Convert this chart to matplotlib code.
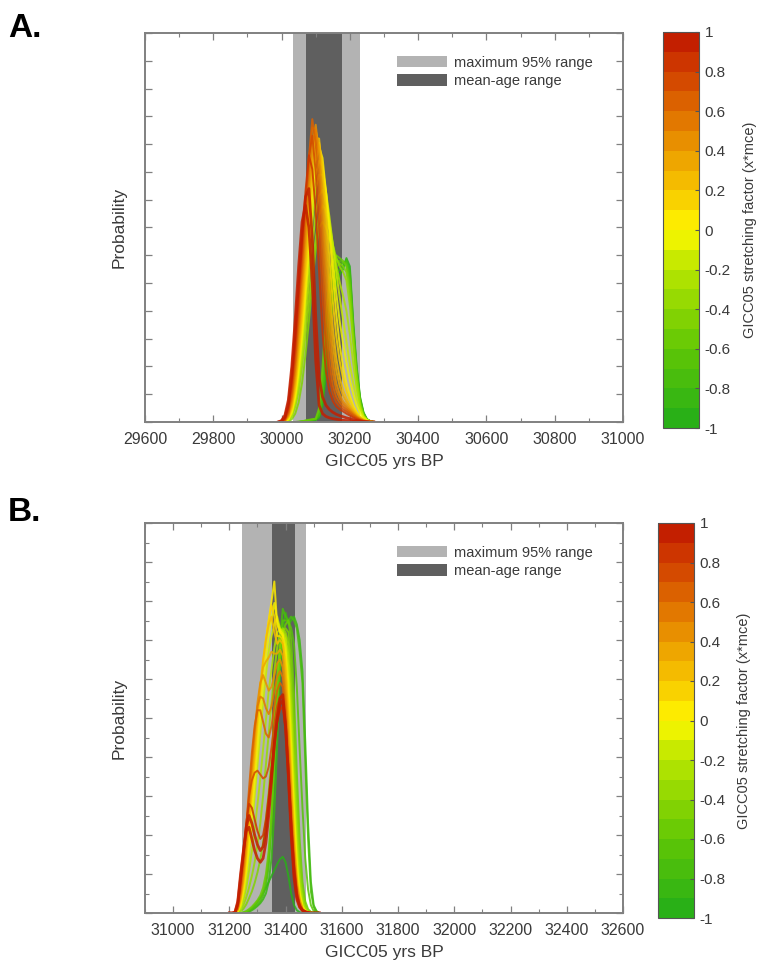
import numpy as np
import matplotlib
matplotlib.use("Agg")
import matplotlib.pyplot as plt
from matplotlib.colors import LinearSegmentedColormap, ListedColormap, BoundaryNorm
from matplotlib.patches import Patch
from matplotlib.ticker import MultipleLocator, FixedLocator
from matplotlib.cm import ScalarMappable

plt.rcParams['font.family'] = ['Liberation Sans', 'DejaVu Sans']

# ---------------- data ----------------
stretch_factors = [-1.0, -0.9, -0.8, -0.7, -0.6, -0.5, -0.4, -0.3, -0.2, -0.1, 0.0,
                   0.1, 0.2, 0.3, 0.4, 0.5, 0.6, 0.7, 0.8, 0.9, 1.0]

# Panel A: probability curves on a 10-yr grid 29990..30270
A_years = np.arange(29990, 30271, 10)
A_m10 = [0, 0, 0, 0, 0, 0, 0, 0, 0.02, 0.03, 0.05, 0.07, 0.15, 0.6, 1.7, 3.1, 4.3, 5.0, 5.3, 5.5, 5.9, 5.6, 3.6, 2.0, 0.9, 0.35, 0.1, 0.03, 0]
A_m09 = [0, 0, 0, 0, 0, 0, 0, 0.01, 0.03, 0.05, 0.07, 0.09, 0.2, 0.8, 2.1, 3.6, 4.7, 5.3, 5.5, 5.6, 5.85, 5.45, 3.45, 1.9, 0.85, 0.32, 0.1, 0.03, 0]
A_m08 = [0, 0, 0, 0, 0, 0, 0, 0.02, 0.04, 0.06, 0.08, 0.1, 0.25, 1.0, 2.6, 4.1, 5.1, 5.6, 5.7, 5.7, 5.8, 5.3, 3.3, 1.8, 0.8, 0.3, 0.1, 0.03, 0]
A_m07 = [0, 0, 0, 0, 0, 0, 0.01, 0.02, 0.05, 0.07, 0.09, 0.11, 0.38, 1.5, 3.2, 4.7, 5.5, 5.8, 5.8, 5.75, 5.7, 5.1, 3.25, 1.75, 0.75, 0.28, 0.09, 0.02, 0]
A_m06 = [0, 0, 0, 0, 0, 0, 0.01, 0.03, 0.05, 0.08, 0.1, 0.12, 0.5, 2.0, 3.9, 5.2, 5.8, 6.0, 5.9, 5.8, 5.6, 4.9, 3.2, 1.7, 0.7, 0.25, 0.08, 0.02, 0]
A_m05 = [0, 0, 0, 0.02, 0.1, 0.3, 0.7, 1.4, 2.4, 3.6, 5.0, 6.2, 7.0, 7.2, 7.0, 6.6, 6.2, 5.9, 5.7, 5.6, 5.4, 4.6, 3.0, 1.6, 0.65, 0.22, 0.07, 0.02, 0]
A_m04 = [0, 0, 0, 0.05, 0.2, 0.55, 1.1, 2.0, 3.1, 4.3, 5.5, 6.6, 7.4, 7.8, 7.6, 7.0, 6.4, 5.9, 5.6, 5.4, 5.1, 4.2, 2.8, 1.5, 0.6, 0.2, 0.06, 0.02, 0]
A_m03 = [0, 0, 0.005, 0.06, 0.25, 0.68, 1.35, 2.4, 3.65, 5.0, 6.35, 7.5, 8.15, 8.35, 7.95, 7.2, 6.4, 5.65, 5.05, 4.55, 4.0, 3.15, 2.1, 1.2, 0.52, 0.2, 0.07, 0.02, 0]
A_m02 = [0, 0, 0.01, 0.08, 0.3, 0.8, 1.6, 2.8, 4.2, 5.7, 7.2, 8.4, 8.9, 8.9, 8.3, 7.4, 6.4, 5.4, 4.5, 3.7, 2.9, 2.1, 1.4, 0.85, 0.45, 0.2, 0.08, 0.02, 0]
A_m01 = [0, 0, 0.015, 0.1, 0.35, 0.9, 1.8, 3.05, 4.55, 6.15, 7.7, 8.9, 9.4, 9.2, 8.3, 7.1, 5.85, 4.65, 3.65, 2.85, 2.15, 1.5, 1.0, 0.6, 0.32, 0.15, 0.06, 0.015, 0]
A_00 = [0, 0, 0.02, 0.12, 0.4, 1.0, 2.0, 3.3, 4.9, 6.6, 8.2, 9.4, 9.9, 9.5, 8.3, 6.8, 5.3, 3.9, 2.8, 2.0, 1.4, 0.95, 0.6, 0.36, 0.2, 0.1, 0.04, 0.01, 0]
A_p01 = [0, 0, 0.025, 0.15, 0.48, 1.15, 2.25, 3.65, 5.35, 7.1, 8.7, 9.8, 10.05, 9.2, 7.65, 5.9, 4.35, 3.1, 2.2, 1.58, 1.12, 0.78, 0.51, 0.32, 0.18, 0.09, 0.035, 0.01, 0]
A_p02 = [0, 0, 0.03, 0.18, 0.55, 1.3, 2.5, 4.0, 5.8, 7.6, 9.2, 10.2, 10.2, 8.9, 7.0, 5.0, 3.4, 2.3, 1.6, 1.15, 0.85, 0.6, 0.42, 0.27, 0.16, 0.08, 0.03, 0.01, 0]
A_p03 = [0, 0, 0.04, 0.22, 0.65, 1.5, 2.8, 4.4, 6.25, 8.05, 9.6, 10.5, 9.9, 8.2, 6.15, 4.25, 2.8, 1.85, 1.3, 0.95, 0.72, 0.52, 0.37, 0.23, 0.14, 0.07, 0.025, 0.005, 0]
A_p04 = [0, 0, 0.05, 0.25, 0.75, 1.7, 3.1, 4.8, 6.7, 8.5, 10.0, 10.7, 9.6, 7.5, 5.3, 3.5, 2.2, 1.4, 1.0, 0.75, 0.6, 0.45, 0.32, 0.2, 0.12, 0.06, 0.02, 0, 0]
A_p05 = [0, 0.005, 0.065, 0.3, 0.88, 1.95, 3.45, 5.2, 7.15, 9.0, 10.6, 10.5, 8.9, 6.6, 4.4, 2.8, 1.75, 1.15, 0.85, 0.65, 0.52, 0.4, 0.28, 0.18, 0.1, 0.05, 0.02, 0, 0]
A_p06 = [0, 0.01, 0.08, 0.35, 1.0, 2.2, 3.8, 5.6, 7.6, 9.5, 10.9, 10.0, 8.0, 5.6, 3.5, 2.1, 1.3, 0.9, 0.7, 0.55, 0.45, 0.35, 0.25, 0.16, 0.09, 0.04, 0.02, 0, 0]
A_p07 = [0, 0.015, 0.1, 0.42, 1.2, 2.5, 4.15, 6.0, 7.95, 9.55, 10.3, 9.0, 6.9, 4.5, 2.7, 1.6, 1.02, 0.72, 0.57, 0.46, 0.38, 0.29, 0.2, 0.13, 0.07, 0.035, 0.015, 0, 0]
A_p08 = [0, 0.02, 0.12, 0.5, 1.4, 2.8, 4.5, 6.4, 8.3, 9.6, 9.1, 7.6, 5.4, 3.2, 1.8, 1.1, 0.75, 0.55, 0.45, 0.38, 0.3, 0.23, 0.16, 0.1, 0.06, 0.03, 0.01, 0, 0]
A_p09 = [0, 0.035, 0.18, 0.65, 1.7, 3.25, 5.05, 6.8, 8.1, 8.4, 6.6, 3.8, 1.6, 0.9, 0.6, 0.45, 0.35, 0.28, 0.23, 0.19, 0.15, 0.12, 0.08, 0.05, 0.03, 0.015, 0.005, 0, 0]
A_p10 = [0, 0.05, 0.25, 0.8, 2.0, 3.7, 5.6, 7.2, 7.8, 7.0, 5.0, 2.2, 0.6, 0.3, 0.2, 0.15, 0.12, 0.1, 0.08, 0.06, 0.05, 0.04, 0.03, 0.02, 0.01, 0, 0, 0, 0]

# Panel B: probability curves on a 10-yr grid 31200..31520
B_years = np.arange(31200, 31521, 10)
B_m10 = [0, 0, 0, 0, 0, 0, 0.02, 0.06, 0.12, 0.2, 0.3, 0.4, 0.52, 0.65, 0.8, 0.95, 1.1, 1.25, 1.38, 1.44, 1.3, 0.95, 0.5, 0.2, 0.07, 0.02, 0, 0, 0, 0, 0, 0, 0]
B_m09 = [0, 0, 0, 0, 0, 0, 0.01, 0.03, 0.07, 0.12, 0.18, 0.25, 0.35, 0.5, 0.8, 1.4, 2.6, 4.3, 6.1, 7.3, 7.7, 7.4, 7.5, 7.6, 7.4, 7.0, 6.2, 4.4, 2.3, 0.8, 0.2, 0.05, 0]
B_m08 = [0, 0, 0, 0, 0, 0, 0.02, 0.05, 0.1, 0.15, 0.22, 0.3, 0.45, 0.7, 1.2, 2.2, 3.8, 5.6, 7.0, 7.8, 7.6, 7.5, 7.6, 7.5, 7.3, 6.7, 5.9, 3.9, 1.9, 0.55, 0.15, 0.04, 0]
B_m07 = [0, 0, 0, 0, 0, 0.01, 0.035, 0.075, 0.13, 0.2, 0.28, 0.38, 0.55, 0.85, 1.4, 2.4, 3.85, 5.45, 6.75, 7.5, 7.5, 7.5, 7.3, 6.9, 5.8, 4.2, 2.7, 1.4, 0.6, 0.2, 0.05, 0.01, 0]
B_m06 = [0, 0, 0, 0, 0, 0.02, 0.05, 0.1, 0.16, 0.24, 0.33, 0.45, 0.65, 1.0, 1.6, 2.6, 3.9, 5.3, 6.5, 7.2, 7.4, 7.5, 7.0, 5.6, 3.6, 1.9, 0.8, 0.3, 0.1, 0.03, 0, 0, 0]
B_m05 = [0, 0, 0, 0.01, 0.04, 0.11, 0.22, 0.38, 0.55, 0.77, 1.04, 1.37, 1.8, 2.4, 3.1, 4.0, 5.05, 6.05, 6.85, 7.25, 7.3, 7.2, 6.4, 4.8, 2.9, 1.45, 0.6, 0.21, 0.06, 0.02, 0, 0, 0]
B_m04 = [0, 0, 0, 0.02, 0.08, 0.2, 0.4, 0.65, 0.95, 1.3, 1.75, 2.3, 3.0, 3.8, 4.6, 5.4, 6.2, 6.8, 7.2, 7.3, 7.2, 6.9, 5.8, 4.0, 2.2, 1.0, 0.4, 0.12, 0.03, 0.01, 0, 0, 0]
B_m03 = [0, 0, 0, 0.025, 0.12, 0.33, 0.65, 1.08, 1.58, 2.15, 2.78, 3.45, 4.2, 4.95, 5.7, 6.25, 6.8, 7.2, 7.25, 7.25, 7.1, 6.6, 5.3, 3.5, 1.85, 0.8, 0.3, 0.09, 0.025, 0.005, 0, 0, 0]
B_m02 = [0, 0, 0, 0.03, 0.15, 0.45, 0.9, 1.5, 2.2, 3.0, 3.8, 4.6, 5.4, 6.1, 6.7, 7.1, 7.4, 7.6, 7.3, 7.2, 7.0, 6.3, 4.8, 3.0, 1.5, 0.6, 0.2, 0.06, 0.02, 0, 0, 0, 0]
B_m01 = [0, 0, 0, 0.04, 0.2, 0.55, 1.05, 1.7, 2.5, 3.35, 4.2, 5.05, 5.85, 6.55, 7.1, 7.55, 7.95, 7.5, 7.25, 7.15, 6.8, 5.9, 4.35, 2.65, 1.3, 0.52, 0.18, 0.055, 0.015, 0, 0, 0, 0]
B_00 = [0, 0, 0, 0.05, 0.25, 0.65, 1.2, 1.9, 2.8, 3.7, 4.6, 5.5, 6.3, 7.0, 7.5, 8.0, 8.5, 7.4, 7.2, 7.1, 6.6, 5.5, 3.9, 2.3, 1.1, 0.45, 0.15, 0.05, 0.01, 0, 0, 0, 0]
B_p01 = [0, 0, 0, 0.065, 0.3, 0.72, 1.35, 2.1, 3.0, 3.9, 4.8, 5.65, 6.4, 7.0, 7.5, 7.9, 7.6, 7.1, 7.1, 7.0, 6.4, 5.25, 3.65, 2.1, 0.98, 0.4, 0.14, 0.045, 0.01, 0, 0, 0, 0]
B_p02 = [0, 0, 0, 0.08, 0.35, 0.8, 1.5, 2.3, 3.2, 4.1, 5.0, 5.8, 6.5, 7.0, 7.4, 7.6, 7.2, 6.9, 7.0, 6.9, 6.2, 5.0, 3.4, 1.9, 0.85, 0.35, 0.12, 0.04, 0.01, 0, 0, 0, 0]
B_p03 = [0, 0, 0, 0.09, 0.4, 0.9, 1.65, 2.5, 3.45, 4.35, 5.2, 5.85, 6.3, 6.45, 6.55, 6.7, 6.65, 6.65, 6.75, 6.6, 5.9, 4.7, 3.15, 1.75, 0.78, 0.32, 0.11, 0.04, 0.01, 0, 0, 0, 0]
B_p04 = [0, 0, 0, 0.1, 0.45, 1.0, 1.8, 2.7, 3.7, 4.6, 5.4, 5.9, 6.1, 5.9, 5.7, 5.8, 6.1, 6.4, 6.5, 6.3, 5.6, 4.4, 2.9, 1.6, 0.7, 0.3, 0.1, 0.04, 0.01, 0, 0, 0, 0]
B_p05 = [0, 0, 0.005, 0.12, 0.52, 1.15, 2.0, 2.95, 3.9, 4.7, 5.3, 5.55, 5.5, 5.25, 5.1, 5.3, 5.7, 6.05, 6.2, 6.05, 5.35, 4.15, 2.7, 1.45, 0.62, 0.26, 0.09, 0.035, 0.01, 0, 0, 0, 0]
B_p06 = [0, 0, 0.01, 0.15, 0.6, 1.3, 2.2, 3.2, 4.1, 4.8, 5.2, 5.2, 4.9, 4.6, 4.5, 4.8, 5.3, 5.7, 5.9, 5.8, 5.1, 3.9, 2.5, 1.3, 0.55, 0.22, 0.08, 0.03, 0.01, 0, 0, 0, 0]
B_p07 = [0, 0, 0.01, 0.18, 0.7, 1.4, 2.25, 3.0, 3.4, 3.6, 3.65, 3.55, 3.45, 3.5, 3.75, 4.25, 4.85, 5.3, 5.55, 5.55, 4.9, 3.75, 2.4, 1.25, 0.52, 0.21, 0.08, 0.03, 0.01, 0, 0, 0, 0]
B_p08 = [0, 0, 0.01, 0.2, 0.8, 1.5, 2.3, 2.8, 2.7, 2.4, 2.1, 1.9, 2.0, 2.4, 3.0, 3.7, 4.4, 4.9, 5.2, 5.3, 4.7, 3.6, 2.3, 1.2, 0.5, 0.2, 0.08, 0.03, 0.01, 0, 0, 0, 0]
B_p09 = [0, 0, 0.015, 0.25, 0.9, 1.55, 2.2, 2.5, 2.3, 2.0, 1.75, 1.6, 1.7, 2.1, 2.75, 3.55, 4.35, 4.95, 5.35, 5.45, 4.75, 3.55, 2.15, 1.05, 0.42, 0.17, 0.07, 0.03, 0.01, 0, 0, 0, 0]
B_p10 = [0, 0, 0.02, 0.3, 1.0, 1.6, 2.1, 2.2, 1.9, 1.6, 1.4, 1.3, 1.4, 1.8, 2.5, 3.4, 4.3, 5.0, 5.5, 5.6, 4.8, 3.5, 2.0, 0.9, 0.35, 0.15, 0.06, 0.03, 0.01, 0, 0, 0, 0]

A_curves = [A_m10, A_m09, A_m08, A_m07, A_m06, A_m05, A_m04, A_m03, A_m02, A_m01, A_00,
            A_p01, A_p02, A_p03, A_p04, A_p05, A_p06, A_p07, A_p08, A_p09, A_p10]
B_curves = [B_m10, B_m09, B_m08, B_m07, B_m06, B_m05, B_m04, B_m03, B_m02, B_m01, B_00,
            B_p01, B_p02, B_p03, B_p04, B_p05, B_p06, B_p07, B_p08, B_p09, B_p10]

A_max95 = (30033, 30230)
A_meanage = (30072, 30178)
B_max95 = (31244, 31471)
B_meanage = (31353, 31433)

A_xticks = [29600, 29800, 30000, 30200, 30400, 30600, 30800, 31000]
B_xticks = [31000, 31200, 31400, 31600, 31800, 32000, 32200, 32400, 32600]
cbar_ticks = [1, 0.8, 0.6, 0.4, 0.2, 0, -0.2, -0.4, -0.6, -0.8, -1]
cbar_ticklabels = ['1', '0.8', '0.6', '0.4', '0.2', '0', '-0.2', '-0.4', '-0.6', '-0.8', '-1']
legend_labels = ['maximum 95% range', 'mean-age range']

# ---------------- style ----------------
W, H = 757, 968
cont = LinearSegmentedColormap.from_list('gyr', [
    (0.00, (0.13, 0.68, 0.10)),
    (0.20, (0.38, 0.78, 0.02)),
    (0.40, (0.72, 0.90, 0.00)),
    (0.50, (1.00, 0.97, 0.00)),
    (0.60, (0.97, 0.78, 0.00)),
    (0.75, (0.90, 0.52, 0.00)),
    (0.90, (0.82, 0.25, 0.00)),
    (1.00, (0.75, 0.08, 0.00)),
])
band_cmap = ListedColormap([cont((i + 0.5) / 20) for i in range(20)])
norm = BoundaryNorm(np.linspace(-1, 1, 21), 20)

LIGHT = '#b3b3b3'
DARK = '#5f5f5f'
FRAME = '#808080'
TXT = '#3a3a3a'

fig = plt.figure(figsize=(W / 100, H / 100), dpi=100)


def rect(x0, y0, x1, y1):
    return [x0 / W, 1 - y1 / H, (x1 - x0) / W, (y1 - y0) / H]


def panel(ax_px, cax_px, years, curves, xlim, xticks, ylim, ymajor, yminor,
          max95, meanage, letter, letter_px, cb_pad):
    ax = fig.add_axes(rect(*ax_px))
    ax.axvspan(*max95, color=LIGHT, lw=0, zorder=0)
    ax.axvspan(*meanage, color=DARK, lw=0, zorder=0)
    for f, c in zip(stretch_factors, curves):
        idx = min(int(round((f + 1) * 10 + 1e-9)), 19)
        col = band_cmap(idx)
        lw = 2.0 if f >= 0.9 else 1.4
        ax.plot(years, c, color=col, lw=lw, alpha=0.85, zorder=2,
                solid_joinstyle='round')
    ax.set_xlim(*xlim)
    ax.set_ylim(*ylim)
    ax.xaxis.set_major_locator(FixedLocator(xticks))
    ax.xaxis.set_minor_locator(MultipleLocator(100))
    ax.yaxis.set_major_locator(MultipleLocator(ymajor))
    if yminor:
        ax.yaxis.set_minor_locator(MultipleLocator(yminor))
    ax.set_xticklabels([str(t) for t in xticks])
    ax.set_yticklabels([])
    ax.tick_params(which='both', direction='in', top=True, right=True,
                   color=FRAME, labelcolor=TXT, labelsize=11.5, pad=7)
    ax.tick_params(which='major', length=5, width=0.9)
    ax.tick_params(which='minor', length=3, width=0.8)
    for s in ax.spines.values():
        s.set_color(FRAME)
        s.set_linewidth(1.4)
    ax.set_xlabel('GICC05 yrs BP', fontsize=12.5, color=TXT, labelpad=5)
    ax.set_ylabel('Probability', fontsize=12.5, color=TXT, labelpad=6)
    handles = [Patch(facecolor=LIGHT, edgecolor='none', label=legend_labels[0]),
               Patch(facecolor=DARK, edgecolor='none', label=legend_labels[1])]
    leg = ax.legend(handles=handles, loc='upper left',
                    bbox_to_anchor=(0.528, 0.942), frameon=False,
                    fontsize=10.5, handlelength=3.4, handleheight=0.85,
                    handletextpad=0.45, labelspacing=0.3, borderpad=0,
                    borderaxespad=0)
    for t in leg.get_texts():
        t.set_color(TXT)

    cax = fig.add_axes(rect(*cax_px))
    cb = fig.colorbar(ScalarMappable(norm=norm, cmap=band_cmap), cax=cax,
                      ticks=cbar_ticks)
    cb.ax.set_yticklabels(cbar_ticklabels)
    cb.ax.tick_params(direction='in', length=3, color='#555555', width=0.8,
                      labelsize=11, labelcolor=TXT, pad=4)
    cb.ax.minorticks_off()
    cb.outline.set_edgecolor('#555555')
    cb.outline.set_linewidth(0.8)
    cb.set_label('GICC05 stretching factor (x*mce)', fontsize=10.5,
                 color=TXT, labelpad=cb_pad)

    fig.text(letter_px[0] / W, 1 - letter_px[1] / H, letter, fontsize=24,
             fontweight='bold', color='black', ha='left', va='baseline')
    return ax


panel((145, 33, 623, 422), (663, 32, 699, 428), A_years, A_curves,
      (29600, 31000), A_xticks, (0, 14), 1, None, A_max95, A_meanage,
      'A.', (8, 37), 9)
panel((145, 523, 623, 913), (658, 523, 694, 918), B_years, B_curves,
      (30900, 32600), B_xticks, (0, 10), 1, 0.5, B_max95, B_meanage,
      'B.', (8, 521), 8)

fig.savefig('out.png', dpi=100)
